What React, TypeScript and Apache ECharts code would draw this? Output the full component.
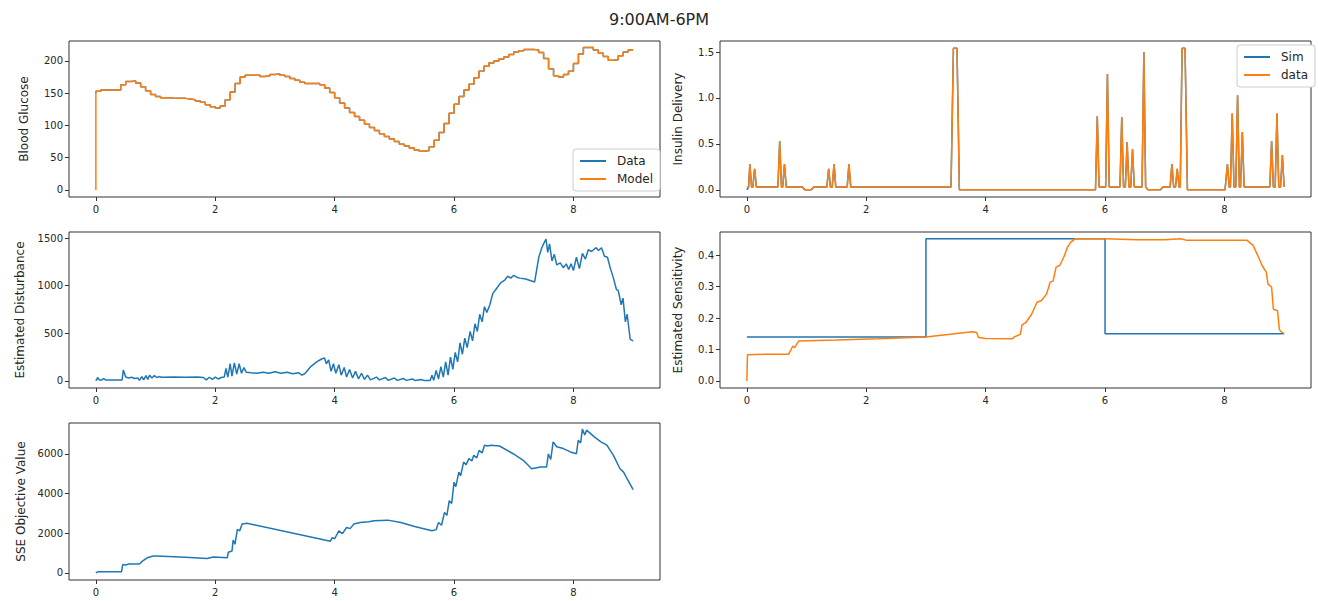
import React, { useEffect, useRef } from "react";
import * as echarts from "echarts";

const TITLE = "9:00AM-6PM";
const X_TICKS = [0, 2, 4, 6, 8];

// Blood glucose, sampled every 5 minutes (hours on x)
const glucoseData = [
  150, 153, 155, 155, 155, 155, 163, 168, 169, 166, 160, 154,
  148, 145, 143, 143, 142, 142, 142, 141, 140, 138, 136, 132,
  129, 127, 130, 140, 152, 165, 175, 178, 178, 178, 176, 177,
  179, 180, 178, 176, 173, 170, 167, 165, 165, 165, 163, 158,
  151, 143, 135, 127, 120, 114, 108, 102, 97, 92, 87, 83,
  79, 75, 71, 68, 65, 62, 60, 61, 67, 77, 89, 103,
  119, 133, 145, 155, 164, 174, 184, 192, 197, 200, 203, 206,
  210, 214, 216, 218, 218, 217, 213, 204, 188, 177, 175, 179,
  184, 196, 211, 221, 221, 217, 212, 207, 201, 202, 208, 214,
  217,
];
const glucoseModel = [0, ...glucoseData.slice(1)];
const glucoseTimes = glucoseData.map((_, i) => i / 12);

// Insulin delivery [hour, value]
const insulinData = [
  [0, 0.03], [0.03, 0.03], [0.05, 0.28], [0.08, 0.03], [0.1, 0.03], [0.13, 0.23], [0.16, 0.03],
  [0.52, 0.03], [0.55, 0.53], [0.58, 0.03], [0.6, 0.03], [0.63, 0.28], [0.66, 0.03],
  [0.93, 0.03], [0.97, 0.0], [1.08, 0.0], [1.12, 0.03], [1.34, 0.03], [1.37, 0.23], [1.4, 0.03],
  [1.43, 0.03], [1.46, 0.28], [1.49, 0.03], [1.68, 0.03], [1.71, 0.28], [1.74, 0.03],
  [3.42, 0.03], [3.46, 1.54], [3.52, 1.54], [3.56, 0.0], [5.84, 0.0], [5.87, 0.8], [5.9, 0.03],
  [6.01, 0.03], [6.04, 1.26], [6.07, 0.03], [6.25, 0.03], [6.28, 0.79], [6.31, 0.03],
  [6.34, 0.03], [6.37, 0.52], [6.4, 0.03], [6.43, 0.03], [6.46, 0.44], [6.49, 0.03],
  [6.62, 0.03], [6.65, 1.5], [6.68, 0.03], [6.72, 0.0], [6.93, 0.0], [6.97, 0.03],
  [7.09, 0.03], [7.12, 0.28], [7.15, 0.03], [7.18, 0.03], [7.21, 0.23], [7.24, 0.03],
  [7.26, 0.03], [7.29, 1.54], [7.34, 1.54], [7.38, 0.0], [8.01, 0.0], [8.05, 0.28], [8.08, 0.03],
  [8.1, 0.03], [8.13, 0.83], [8.16, 0.03], [8.19, 0.03], [8.22, 1.03], [8.25, 0.03],
  [8.27, 0.03], [8.3, 0.63], [8.33, 0.03], [8.76, 0.03], [8.79, 0.53], [8.82, 0.03],
  [8.85, 0.03], [8.88, 0.83], [8.91, 0.03], [8.94, 0.03], [8.97, 0.38], [9.0, 0.03],
];
const insulinSim = [[0, 0], ...insulinData.slice(1)];

// Estimated disturbance [hour, value]
const disturbance = [
  [0, 0], [0.03, 35], [0.06, 8], [0.1, 10], [0.13, 25], [0.16, 10], [0.44, 10], [0.46, 115],
  [0.5, 40], [0.55, 30], [0.6, 38], [0.65, 25], [0.7, 30], [0.73, 5], [0.77, 45], [0.8, 10],
  [0.84, 55], [0.87, 15], [0.9, 60], [0.94, 30], [0.98, 55], [1.02, 35], [1.06, 45], [1.1, 38],
  [1.3, 40], [1.5, 38], [1.7, 40], [1.8, 35], [1.85, 10], [1.9, 38], [1.95, 15], [2.0, 40],
  [2.05, 20], [2.1, 35], [2.15, 40], [2.18, 130], [2.21, 40], [2.25, 180], [2.28, 50],
  [2.32, 190], [2.36, 70], [2.4, 180], [2.44, 80], [2.48, 140], [2.52, 90], [2.6, 85],
  [2.7, 80], [2.8, 90], [2.9, 80], [3.0, 95], [3.1, 80], [3.2, 90], [3.3, 75], [3.4, 85],
  [3.45, 60], [3.5, 75], [3.6, 150], [3.7, 200], [3.78, 230], [3.83, 240], [3.86, 180],
  [3.9, 220], [3.94, 100], [3.98, 180], [4.02, 80], [4.07, 170], [4.11, 60], [4.16, 140],
  [4.2, 40], [4.25, 120], [4.3, 30], [4.35, 100], [4.4, 20], [4.45, 80], [4.5, 15], [4.55, 60],
  [4.6, 10], [4.7, 40], [4.75, 10], [4.85, 35], [4.9, 5], [5.0, 30], [5.05, 5], [5.15, 25],
  [5.2, 5], [5.3, 20], [5.35, 3], [5.45, 15], [5.5, 3], [5.6, 5], [5.63, 60], [5.66, 5],
  [5.7, 110], [5.74, 20], [5.78, 150], [5.82, 40], [5.86, 200], [5.9, 60], [5.94, 250],
  [5.98, 120], [6.02, 300], [6.06, 200], [6.1, 400], [6.14, 280], [6.18, 450], [6.22, 350],
  [6.27, 520], [6.31, 420], [6.35, 600], [6.39, 520], [6.43, 700], [6.47, 620], [6.51, 780],
  [6.55, 720], [6.6, 800], [6.65, 920], [6.7, 960], [6.78, 1030], [6.85, 1060], [6.9, 1100],
  [6.95, 1080], [7.0, 1110], [7.05, 1090], [7.1, 1080], [7.2, 1070], [7.3, 1050], [7.35, 1040],
  [7.42, 1300], [7.47, 1400], [7.5, 1440], [7.54, 1490], [7.57, 1350], [7.6, 1440], [7.64, 1260],
  [7.68, 1330], [7.72, 1220], [7.78, 1240], [7.83, 1190], [7.88, 1230], [7.92, 1170],
  [7.96, 1230], [8.0, 1160], [8.05, 1300], [8.1, 1180], [8.15, 1340], [8.2, 1280], [8.25, 1380],
  [8.3, 1360], [8.38, 1400], [8.42, 1370], [8.47, 1400], [8.52, 1310], [8.57, 1300],
  [8.62, 1180], [8.67, 1080], [8.72, 960], [8.75, 950], [8.8, 800], [8.83, 870], [8.87, 620],
  [8.9, 700], [8.95, 440], [9.0, 420],
];

// Estimated sensitivity [hour, value]
const sensitivitySim = [[0, 0.14], [3, 0.14], [3, 0.452], [6, 0.452], [6, 0.15], [9, 0.15]];
const sensitivityData = [
  [0, 0], [0.01, 0.083], [0.3, 0.085], [0.7, 0.085], [0.72, 0.092], [0.77, 0.111], [0.8, 0.106],
  [0.87, 0.127], [1.5, 0.13], [2.2, 0.134], [3.0, 0.14], [3.4, 0.148], [3.78, 0.156],
  [3.85, 0.154], [3.88, 0.138], [4.0, 0.135], [4.45, 0.134], [4.48, 0.14], [4.58, 0.148],
  [4.61, 0.178], [4.67, 0.185], [4.77, 0.212], [4.86, 0.25], [4.93, 0.255], [5.02, 0.276],
  [5.08, 0.314], [5.13, 0.318], [5.18, 0.362], [5.24, 0.367], [5.31, 0.394], [5.37, 0.425],
  [5.43, 0.442], [5.5, 0.452], [6.0, 0.452], [6.54, 0.449], [7.0, 0.449], [7.27, 0.452],
  [7.37, 0.447], [8.38, 0.447], [8.48, 0.431], [8.57, 0.394], [8.63, 0.367], [8.7, 0.346],
  [8.73, 0.308], [8.79, 0.298], [8.82, 0.228], [8.89, 0.223], [8.92, 0.164], [8.95, 0.156],
  [9.0, 0.15],
];

// SSE objective value [hour, value]
const sse = [
  [0, 0], [0.03, 50], [0.43, 50], [0.45, 422], [0.5, 400], [0.55, 450], [0.73, 450],
  [0.78, 590], [0.86, 760], [0.96, 850], [1.02, 850], [1.5, 790], [1.86, 730], [1.97, 800],
  [2.2, 760], [2.22, 1040], [2.28, 1100], [2.3, 1660], [2.33, 1440], [2.37, 2200], [2.41, 2120],
  [2.45, 2460], [2.53, 2500], [3.93, 1600], [3.96, 1780], [4.0, 1720], [4.07, 2120],
  [4.13, 1980], [4.2, 2290], [4.26, 2230], [4.32, 2460], [4.43, 2540], [4.57, 2580],
  [4.66, 2630], [4.89, 2660], [5.11, 2540], [5.34, 2340], [5.63, 2120], [5.7, 2180],
  [5.74, 2540], [5.79, 2400], [5.84, 3050], [5.88, 2900], [5.92, 3640], [5.96, 3500],
  [6.0, 4575], [6.03, 4350], [6.08, 5080], [6.11, 4900], [6.16, 5590], [6.2, 5450],
  [6.25, 5760], [6.3, 5650], [6.33, 5930], [6.38, 5800], [6.42, 6180], [6.47, 6050],
  [6.51, 6440], [6.56, 6400], [6.62, 6440], [6.76, 6400], [6.99, 6010], [7.16, 5680],
  [7.3, 5250], [7.45, 5340], [7.55, 5340], [7.58, 6000], [7.62, 5720], [7.66, 6610],
  [7.72, 6360], [7.83, 6270], [7.95, 6100], [8.05, 6010], [8.08, 6690], [8.12, 6550],
  [8.15, 7250], [8.19, 6950], [8.22, 7200], [8.35, 6860], [8.46, 6610], [8.56, 6440],
  [8.67, 5930], [8.78, 5250], [8.84, 5080], [8.9, 4740], [9.0, 4200],
];

const BLUE = "#1f77b4";
const ORANGE = "#ff7f0e";
const FONT = "DejaVu Sans";
const INK = "#262626";

const GRIDS = [
  { left: 69, top: 41, width: 591, height: 156 },
  { left: 720, top: 41, width: 591, height: 156 },
  { left: 69, top: 232, width: 591, height: 156 },
  { left: 720, top: 232, width: 591, height: 156 },
  { left: 69, top: 423, width: 591, height: 157 },
];

const Y_SPECS = [
  { name: "Blood Glucose", min: -11, max: 231, ticks: [0, 50, 100, 150, 200], dec: 0, gap: 39 },
  { name: "Insulin Delivery", min: -0.078, max: 1.62, ticks: [0, 0.5, 1, 1.5], dec: 1, gap: 36 },
  { name: "Estimated Disturbance", min: -75, max: 1565, ticks: [0, 500, 1000, 1500], dec: 0, gap: 43 },
  { name: "Estimated Sensitivity", min: -0.0226, max: 0.4736, ticks: [0, 0.1, 0.2, 0.3, 0.4], dec: 1, gap: 36 },
  { name: "SSE Objective Value", min: -360, max: 7560, ticks: [0, 2000, 4000, 6000], dec: 0, gap: 42 },
];

function lineSeries(name: string, idx: number, data: any[], color: string, step?: string) {
  return {
    name,
    type: "line",
    xAxisIndex: idx,
    yAxisIndex: idx,
    data,
    showSymbol: false,
    symbol: "none",
    step: step || false,
    color,
    lineStyle: { color, width: 1.5 },
    silent: true,
  };
}

const legendCommon = {
  orient: "vertical",
  icon: "rect",
  itemWidth: 26,
  itemHeight: 2,
  itemGap: 4,
  padding: [5, 7, 5, 7],
  backgroundColor: "#ffffff",
  borderColor: "#cccccc",
  borderWidth: 1,
  borderRadius: 3,
  textStyle: { fontFamily: FONT, fontSize: 12, color: INK, lineHeight: 14, padding: [0, 0, 0, 6] },
  selectedMode: false,
};

export default function App() {
  const ref = useRef<HTMLDivElement>(null);
  useEffect(() => {
    if (!ref.current) return;
    const chart = echarts.init(ref.current, null, { renderer: "svg" });
    const option: any = {
      animation: false,
      backgroundColor: "#ffffff",
      title: {
        text: TITLE,
        left: "center",
        top: 6,
        textStyle: { fontFamily: FONT, fontSize: 16, fontWeight: "normal", color: INK },
      },
      grid: GRIDS.map((g) => ({
        ...g,
        show: true,
        borderColor: "#333333",
        borderWidth: 1,
        backgroundColor: "transparent",
        containLabel: false,
      })),
      xAxis: GRIDS.map((_, i) => ({
        type: "value",
        gridIndex: i,
        min: -0.45,
        max: 9.45,
        axisLine: { show: false, onZero: false },
        splitLine: { show: false },
        axisTick: { show: true, customValues: X_TICKS, length: 4, lineStyle: { color: "#333333" } },
        axisLabel: { customValues: X_TICKS, fontFamily: FONT, fontSize: 10, color: INK, margin: 7 },
      })),
      yAxis: Y_SPECS.map((s, i) => ({
        type: "value",
        gridIndex: i,
        min: s.min,
        max: s.max,
        name: s.name,
        nameLocation: "middle",
        nameGap: s.gap,
        nameTextStyle: { fontFamily: FONT, fontSize: 12, color: INK },
        axisLine: { show: false, onZero: false },
        splitLine: { show: false },
        axisTick: { show: true, customValues: s.ticks, length: 4, lineStyle: { color: "#333333" } },
        axisLabel: {
          customValues: s.ticks,
          fontFamily: FONT,
          fontSize: 10,
          color: INK,
          margin: 6,
          formatter: (v: number) => v.toFixed(s.dec),
        },
      })),
      legend: [
        { ...legendCommon, data: ["Data", "Model"], left: 573, top: 149 },
        { ...legendCommon, data: ["Sim", "data"], left: 1237, top: 45 },
      ],
      series: [
        lineSeries("Data", 0, glucoseTimes.map((t, i) => [t, glucoseData[i]]), BLUE, "start"),
        lineSeries("Model", 0, glucoseTimes.map((t, i) => [t, glucoseModel[i]]), ORANGE, "start"),
        lineSeries("Sim", 1, insulinSim, BLUE),
        lineSeries("data", 1, insulinData, ORANGE),
        lineSeries("Estimated Disturbance", 2, disturbance, BLUE),
        lineSeries("Sensitivity Sim", 3, sensitivitySim, BLUE),
        lineSeries("Sensitivity Data", 3, sensitivityData, ORANGE),
        lineSeries("SSE", 4, sse, BLUE),
      ],
    };
    chart.setOption(option);
    return () => chart.dispose();
  }, []);
  return (
    <div
      ref={ref}
      style={{ position: "absolute", left: 0, top: 0, width: 1318, height: 601, background: "#fff" }}
    />
  );
}
